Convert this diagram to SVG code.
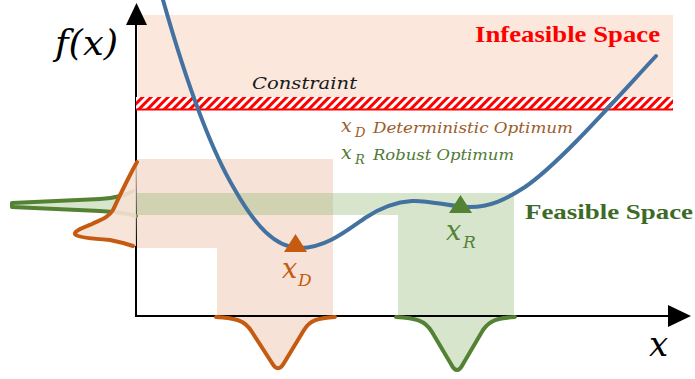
<svg xmlns="http://www.w3.org/2000/svg" width="695" height="379" viewBox="0 0 695 379">
<defs>
<pattern id="hatch" patternUnits="userSpaceOnUse" width="6" height="6" patternTransform="rotate(45)">
<rect x="0" y="0" width="6" height="6" fill="#ffffff"/>
<rect x="0" y="0" width="3" height="6" fill="#ff0000"/>
</pattern>
<style>
.peach{fill:#f6e2d6}
.greenfill{fill:#8db56f;fill-opacity:0.35}
.orangeLine{fill:none;stroke:#c55a11;stroke-width:4;stroke-linejoin:round;stroke-linecap:round}
.greenLine{fill:none;stroke:#548235;stroke-width:4;stroke-linejoin:round;stroke-linecap:round}
.axis{stroke:#000;stroke-width:2;fill:none}
.it{font-family:"DejaVu Serif",serif;font-style:italic}
.bd{font-family:"Liberation Serif",serif;font-weight:bold}
</style>
</defs>
<rect width="695" height="379" fill="#ffffff"/>

<g id="infeasible-region">
<rect x="138" y="15" width="535" height="82" fill="#fbe7dc"/>
<text class="bd" x="475" y="42" font-size="23" fill="#ff0000" textLength="185" lengthAdjust="spacingAndGlyphs">Infeasible Space</text>
</g>

<g id="deterministic-region">
<path class="peach" d="M137,159 H333 V316 H217 V248 H137 Z"/>
</g>

<g id="robust-region">
<rect class="greenfill" x="137" y="193" width="261" height="22"/>
<rect class="greenfill" x="398" y="193" width="116" height="123"/>
</g>

<g id="axes">
<line class="axis" x1="136" y1="317" x2="136" y2="22"/>
<polygon points="126,25 136.5,3 147,25" fill="#000"/>
<line class="axis" x1="135" y1="316" x2="670" y2="316"/>
<polygon points="668,305 691,316 668,327" fill="#000"/>
<text class="it" x="55" y="55" font-size="36" fill="#000" textLength="63" lengthAdjust="spacingAndGlyphs">f(x)</text>
<text class="it" x="649" y="356" font-size="34" fill="#000">x</text>
</g>

<g id="constraint">
<rect x="136" y="97" width="537" height="12" fill="url(#hatch)"/>
<line x1="136" y1="109.5" x2="673" y2="109.5" stroke="#ff0000" stroke-width="2"/>
<text class="it" x="252" y="89" font-size="17" fill="#1a1a1a" textLength="105" lengthAdjust="spacingAndGlyphs">Constraint</text>
</g>

<g id="legend">
<text class="it" x="341" y="132" font-size="19" fill="#9c5b2a">x</text>
<text class="it" x="355" y="137" font-size="13" fill="#9c5b2a">D</text>
<text class="it" x="373" y="133" font-size="15" fill="#9c5b2a" textLength="200" lengthAdjust="spacingAndGlyphs">Deterministic Optimum</text>
<text class="it" x="341" y="159" font-size="19" fill="#4e7a34">x</text>
<text class="it" x="355" y="164" font-size="13" fill="#4e7a34">R</text>
<text class="it" x="373" y="160" font-size="15" fill="#4e7a34" textLength="141" lengthAdjust="spacingAndGlyphs">Robust Optimum</text>
</g>

<g id="function-curve">
<path d="M163,0 C180,60 205,140 235,190 C255,225 275,248 300,248 C325,248 345,232 365,218 C380,208 395,202 412,201 C430,200 450,207 470,207 C490,207 505,200 525,187 C560,163 615,100 656,56" fill="none" stroke="#4472a0" stroke-width="4" stroke-linecap="round"/>
</g>

<g id="deterministic-optimum">
<polygon points="284,252 295.5,234 307,252" fill="#c55a11"/>
<text class="it" x="282" y="278" font-size="27" fill="#c55a11">x</text>
<text class="it" x="298" y="286" font-size="17" fill="#c55a11">D</text>
</g>

<g id="robust-optimum">
<polygon points="449,213 460.5,195 472,213" fill="#548235"/>
<text class="it" x="446" y="240" font-size="27" fill="#548235">x</text>
<text class="it" x="463" y="248" font-size="17" fill="#548235">R</text>
</g>

<g id="feasible-label">
<text class="bd" x="525" y="219" font-size="22" fill="#3d6b27" textLength="168" lengthAdjust="spacingAndGlyphs">Feasible Space</text>
</g>

<g id="robust-distribution-y">
<path class="greenfill" d="M136,191 L133,191 C125,196 115,198 100,199 L12,203 L12,207 L100,211 C115,212 128,213 136,216 Z"/>
<path class="greenLine" d="M133,191 C125,196 115,198 100,199 L12,203 L12,207 L100,211 C115,212 128,213 136,216"/>
</g>

<g id="deterministic-distribution-y">
<path class="peach" d="M137,162 C128,178 120,195 113,210 C108,218 100,220 92,224 C80,229 72,232 76,235 C80,238 95,239 110,240 C120,242 127,244 133,246 L136,246 Z" fill-opacity="0.9"/>
<path class="orangeLine" d="M137,162 C128,178 120,195 113,210 C108,218 100,220 92,224 C80,229 72,232 76,235 C80,238 95,239 110,240 C120,242 127,244 133,246"/>
</g>

<g id="deterministic-distribution-x">
<path class="peach" d="M216,317 C235,318 245,320 252,332 L272,363 C276,370 280,370 284,363 L304,330 C310,320 318,318 335,317 Z"/>
<path class="orangeLine" d="M216,317 C235,318 245,320 252,332 L272,363 C276,370 280,370 284,363 L304,330 C310,320 318,318 335,317"/>
</g>

<g id="robust-distribution-x">
<path class="greenfill" d="M396,317 C415,318 425,320 432,332 L451,364 C455,372 459,372 463,364 L483,330 C490,320 498,318 515,317 Z"/>
<path class="greenLine" d="M396,317 C415,318 425,320 432,332 L451,364 C455,372 459,372 463,364 L483,330 C490,320 498,318 515,317"/>
</g>
</svg>
